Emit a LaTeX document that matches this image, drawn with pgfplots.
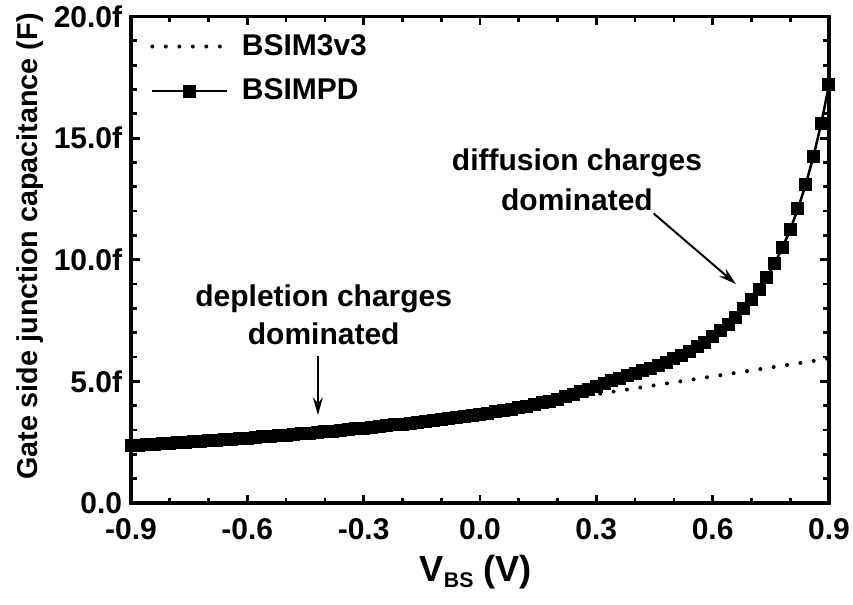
\documentclass[border=0pt]{standalone}
\usepackage{pgfplots}
\pgfplotsset{compat=1.18}
\usepackage{pgfplotstable}
\usepackage{fontspec}
\setmainfont{Liberation Sans}
\usetikzlibrary{arrows.meta}

% V_BS (V), BSIM3v3 (fF), BSIMPD (fF)
\pgfplotstableread{
V dep pd
-0.90 2.362 2.362
-0.88 2.380 2.380
-0.86 2.399 2.399
-0.84 2.418 2.418
-0.82 2.437 2.437
-0.80 2.457 2.457
-0.78 2.476 2.476
-0.76 2.496 2.496
-0.74 2.517 2.517
-0.72 2.538 2.538
-0.70 2.559 2.559
-0.68 2.581 2.581
-0.66 2.603 2.603
-0.64 2.625 2.625
-0.62 2.648 2.648
-0.60 2.671 2.671
-0.58 2.695 2.695
-0.56 2.719 2.719
-0.54 2.743 2.743
-0.52 2.768 2.768
-0.50 2.794 2.794
-0.48 2.820 2.820
-0.46 2.846 2.846
-0.44 2.873 2.873
-0.42 2.900 2.900
-0.40 2.929 2.929
-0.38 2.957 2.957
-0.36 2.987 2.987
-0.34 3.016 3.016
-0.32 3.047 3.047
-0.30 3.078 3.078
-0.28 3.110 3.110
-0.26 3.142 3.142
-0.24 3.176 3.176
-0.22 3.210 3.210
-0.20 3.244 3.244
-0.18 3.280 3.280
-0.16 3.316 3.316
-0.14 3.353 3.353
-0.12 3.391 3.391
-0.10 3.430 3.430
-0.08 3.470 3.470
-0.06 3.511 3.511
-0.04 3.553 3.553
-0.02 3.596 3.596
0.00 3.640 3.645
0.02 3.685 3.692
0.04 3.732 3.743
0.06 3.779 3.794
0.08 3.828 3.850
0.10 3.878 3.908
0.12 3.930 3.971
0.14 3.983 4.039
0.16 4.038 4.112
0.18 4.094 4.190
0.20 4.152 4.275
0.22 4.212 4.368
0.24 4.274 4.467
0.26 4.337 4.573
0.28 4.402 4.686
0.30 4.470 4.806
0.32 4.519 4.910
0.34 4.568 5.016
0.36 4.617 5.123
0.38 4.666 5.227
0.40 4.715 5.328
0.42 4.764 5.433
0.44 4.813 5.544
0.46 4.862 5.663
0.48 4.911 5.791
0.50 4.960 5.928
0.52 5.009 6.078
0.54 5.058 6.241
0.56 5.107 6.419
0.58 5.156 6.616
0.60 5.205 6.832
0.62 5.254 7.073
0.64 5.303 7.341
0.66 5.352 7.642
0.68 5.401 7.980
0.70 5.450 8.362
0.72 5.499 8.794
0.74 5.548 9.287
0.76 5.597 9.851
0.78 5.646 10.497
0.80 5.695 11.241
0.82 5.744 12.100
0.84 5.793 13.095
0.86 5.842 14.253
0.88 5.891 15.605
0.90 5.940 17.186
}\captable

\begin{document}
\begin{tikzpicture}
\begin{axis}[
    scale only axis, width=279.2pt, height=194.6pt,
    xmin=-0.9, xmax=0.9, ymin=0, ymax=20,
    xtick={-0.9,-0.6,-0.3,0,0.3,0.6,0.9},
    xticklabels={-0.9,-0.6,-0.3,0.0,0.3,0.6,0.9},
    ytick={0,5,10,15,20},
    yticklabels={0.0,5.0f,10.0f,15.0f,20.0f},
    minor x tick num=2, minor y tick num=4,
    tick align=inside, major tick length=3.4pt, minor tick length=2.2pt,
    tick style={black, line width=1.1pt},
    axis line style={line width=1.4pt},
    tick label style={font=\bfseries\fontsize{12}{14}\selectfont},
    xticklabel style={yshift=-2.5pt},
    xlabel={V\raisebox{-2.5pt}{\fontsize{8.5}{10}\selectfont BS} (V)},
    xlabel style={font=\bfseries\fontsize{14.5}{16}\selectfont,
                  at={(axis description cs:0.494,-0.142)}, anchor=center},
    ylabel={Gate side junction capacitance (F)},
    ylabel style={font=\bfseries\fontsize{11.5}{13}\selectfont,
                  at={(axis description cs:-0.145,0.527)}, anchor=center},
    legend style={draw=none, fill=none, inner sep=0pt,
                  at={(axis description cs:0.027,0.975)}, anchor=north west,
                  font=\bfseries\fontsize{12}{14}\selectfont, row sep=4pt},
    legend cell align=left,
    legend image code/.code={\draw[mark repeat=2,mark phase=2,#1]
        plot coordinates {(0pt,0pt) (15pt,0pt) (30pt,0pt)};
        \path (33pt,0pt);},
    clip=true,
]
\addplot[black, line width=1.6pt, line cap=round, dash pattern=on 0pt off 5.4pt]
    table[x=V, y=dep] {\captable};
\addlegendentry{BSIM3v3}
\addplot[black, line width=1pt, mark=square*, mark size=2.1pt,
         mark options={solid, fill=black}]
    table[x=V, y=pd] {\captable};
\addlegendentry{BSIMPD}

\node[font=\bfseries\fontsize{12}{15.2}\selectfont, align=center]
    at (axis cs:-0.403,7.74) {depletion charges\\dominated};
\draw[line width=0.8pt, -{Stealth[length=7pt,width=4pt]}]
    (axis cs:-0.418,6.05) -- (axis cs:-0.418,3.62);
\node[font=\bfseries\fontsize{12}{16}\selectfont, align=center]
    at (axis cs:0.25,13.3) {diffusion charges\\dominated};
\draw[line width=0.8pt, -{Stealth[length=7pt,width=4pt]}]
    (axis cs:0.448,11.9) -- (axis cs:0.660,9.0);
\end{axis}
\pgfresetboundingbox
\path ([shift={(-52.4pt,-40.4pt)}]current axis.south west)
    rectangle ([shift={(9.6pt,6.6pt)}]current axis.north east);
\end{tikzpicture}
\end{document}
